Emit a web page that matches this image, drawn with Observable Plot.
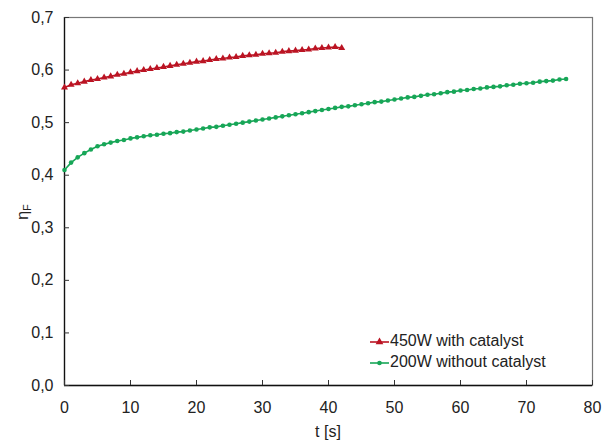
<!DOCTYPE html>
<html><head><meta charset="utf-8">
<script src="https://cdn.jsdelivr.net/npm/d3@7"></script>
<script src="https://cdn.jsdelivr.net/npm/@observablehq/plot@0.6"></script>
<style>body{margin:0;background:#fff} #chart{width:602px;height:441px}</style>
</head><body><div id="chart"></div>
<script>
const seriesNames = ["450W with catalyst", "200W without catalyst"];
const seriesColors = ["#bb1423", "#17a657"];

const tRed = [0,1,2,3,4,5,6,7,8,9,10,11,12,13,14,15,16,17,18,19,20,21,22,23,24,25,26,27,28,29,30,31,32,33,34,35,36,37,38,39,40,41,42];
const etaRed = [0.567,0.572,0.575,0.578,0.581,0.583,0.586,0.588,0.591,0.593,0.596,0.598,0.600,0.602,0.604,0.606,0.608,0.610,0.612,0.614,0.616,0.617,0.619,0.621,0.622,0.624,0.625,0.627,0.628,0.629,0.631,0.632,0.633,0.635,0.636,0.637,0.638,0.639,0.641,0.642,0.643,0.644,0.642];

const tGreen = [0,1,2,3,4,5,6,7,8,9,10,11,12,13,14,15,16,17,18,19,20,21,22,23,24,25,26,27,28,29,30,31,32,33,34,35,36,37,38,39,40,41,42,43,44,45,46,47,48,49,50,51,52,53,54,55,56,57,58,59,60,61,62,63,64,65,66,67,68,69,70,71,72,73,74,75,76];
const etaGreen = [0.410,0.424,0.434,0.442,0.449,0.455,0.459,0.462,0.465,0.467,0.470,0.472,0.474,0.476,0.477,0.479,0.480,0.482,0.483,0.485,0.487,0.489,0.491,0.492,0.494,0.496,0.498,0.500,0.502,0.504,0.506,0.508,0.510,0.512,0.514,0.516,0.518,0.520,0.522,0.524,0.526,0.528,0.530,0.531,0.533,0.535,0.537,0.539,0.540,0.542,0.544,0.546,0.548,0.549,0.551,0.553,0.554,0.556,0.558,0.559,0.561,0.562,0.564,0.565,0.567,0.568,0.569,0.571,0.572,0.574,0.575,0.576,0.578,0.579,0.580,0.582,0.583];

const xTicks = [0,10,20,30,40,50,60,70,80];
const yTicks = [0,0.1,0.2,0.3,0.4,0.5,0.6,0.7];
const xLabel = "t [s]";

const red = tRed.map((t, i) => ({t, eta: etaRed[i]}));
const green = tGreen.map((t, i) => ({t, eta: etaGreen[i]}));

const W = 602, H = 441;
const mL = 64, mR = 10, mT = 17, mB = 56;
const fmt = d => d.toFixed(1).replace(".", ",");

const plot = Plot.plot({
  width: W, height: H,
  marginLeft: mL, marginRight: mR, marginTop: mT, marginBottom: mB,
  style: {fontFamily: "Liberation Sans, Arial, sans-serif", fontSize: "16px", color: "#222", background: "#fff"},
  x: {domain: [0, 80]},
  y: {domain: [0, 0.7]},
  marks: [
    Plot.frame({stroke: "#777", strokeWidth: 1.2}),
    Plot.ruleX([0], {stroke: "#111", strokeWidth: 1.3}),
    Plot.ruleY([0], {stroke: "#111", strokeWidth: 1.3}),
    Plot.axisX(xTicks, {tickSize: -5, tickPadding: 21, tickFormat: d => String(d), label: null, stroke: "#333", fill: "#222"}),
    Plot.axisY(yTicks, {tickSize: -5, tickPadding: 16, tickFormat: fmt, label: null, stroke: "#333", fill: "#222"}),
    Plot.line(green, {x: "t", y: "eta", stroke: seriesColors[1], strokeWidth: 1.6}),
    Plot.dot(green, {x: "t", y: "eta", r: 2.3, fill: seriesColors[1], stroke: "none"}),
    Plot.line(red, {x: "t", y: "eta", stroke: seriesColors[0], strokeWidth: 1.6}),
    Plot.dot(red, {x: "t", y: "eta", symbol: "triangle", r: 2.6, fill: seriesColors[0], stroke: "none"})
  ]
});
document.getElementById("chart").appendChild(plot);

const svg = d3.select(plot);
// x label
svg.append("text").attr("x", (mL + W - mR) / 2).attr("y", 433)
  .attr("text-anchor", "middle").attr("dominant-baseline", "middle")
  .attr("font-size", 16).attr("fill", "#222").text(xLabel);
// y label with subscript
const yl = svg.append("text").attr("transform", `translate(24,212) rotate(-90)`)
  .attr("text-anchor", "middle").attr("dominant-baseline", "middle")
  .attr("font-size", 16).attr("fill", "#222");
yl.append("tspan").text("η");
yl.append("tspan").attr("font-size", 11).attr("dy", 4).text("F");

// legend
const legendRows = [342, 363];
const lx0 = 370, lx1 = 389;
seriesNames.forEach((name, i) => {
  const g = svg.append("g");
  const yy = legendRows[i];
  g.append("line").attr("x1", lx0).attr("x2", lx1).attr("y1", yy).attr("y2", yy)
    .attr("stroke", seriesColors[i]).attr("stroke-width", 1.6);
  const cx = (lx0 + lx1) / 2;
  if (i === 0) {
    g.append("path").attr("d", d3.symbol(d3.symbolTriangle, 26)()).attr("transform", `translate(${cx},${yy})`).attr("fill", seriesColors[i]);
  } else {
    g.append("circle").attr("cx", cx).attr("cy", yy).attr("r", 2.3).attr("fill", seriesColors[i]);
  }
  g.append("text").attr("x", lx1 + 1).attr("y", yy).attr("dominant-baseline", "middle")
    .attr("text-anchor", "start")
    .attr("font-size", 16).attr("fill", "#222").text(name);
});
</script>
</body></html>
